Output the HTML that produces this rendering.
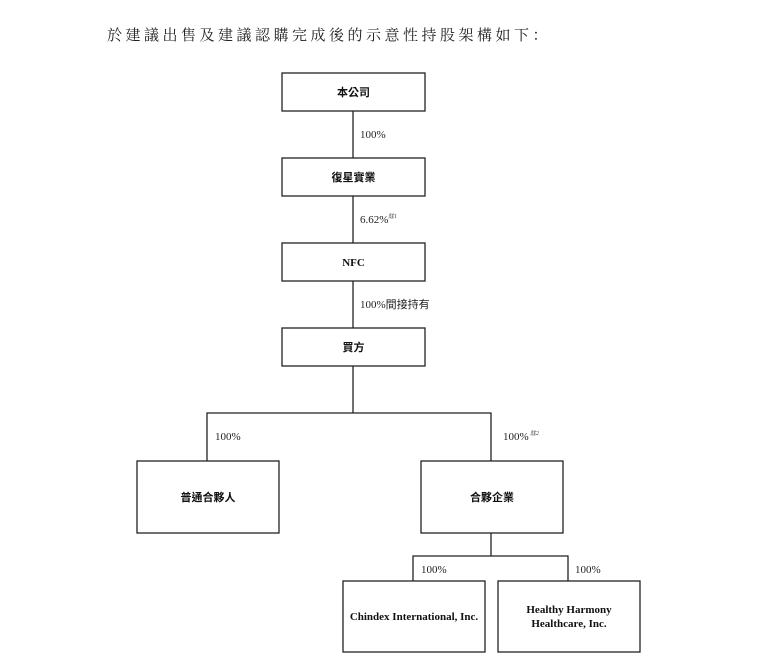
<!DOCTYPE html>
<html><head><meta charset="utf-8"><style>
html,body{margin:0;padding:0;background:#fff;width:772px;height:658px;overflow:hidden}
svg{display:block}
.cj{font-family:"Liberation Sans","Noto Sans CJK TC",sans-serif;font-size:11px;font-weight:bold;fill:#111}
.pc{font-family:"Liberation Serif","Noto Sans CJK TC",serif;font-size:11px;fill:#222}
.en{font-family:"Liberation Serif",serif;font-size:11px;font-weight:bold;fill:#111}
.sup{font-family:"Liberation Serif","Noto Sans CJK TC",serif;font-size:6px;font-style:italic;fill:#444}
.t{font-family:"Liberation Serif","Noto Serif CJK SC","Noto Sans CJK TC",serif;font-size:15px;fill:#222;letter-spacing:3.5px}
</style></head><body>
<svg width="772" height="658" viewBox="0 0 772 658">
<text class="t" x="107" y="40">於建議出售及建議認購完成後的示意性持股架構如下：</text>
<g fill="none" stroke="#222" stroke-width="1.3">
<rect x="282" y="73" width="143" height="38"/>
<rect x="282" y="158" width="143" height="38"/>
<rect x="282" y="243" width="143" height="38"/>
<rect x="282" y="328" width="143" height="38"/>
<line x1="353" y1="111" x2="353" y2="158"/>
<line x1="353" y1="196" x2="353" y2="243"/>
<line x1="353" y1="281" x2="353" y2="328"/>
<line x1="353" y1="366" x2="353" y2="413"/>
<polyline points="207,461 207,413 491,413 491,461"/>
<rect x="137" y="461" width="142" height="72"/>
<rect x="421" y="461" width="142" height="72"/>
<line x1="491" y1="533" x2="491" y2="556"/>
<polyline points="413,581 413,556 568,556 568,581"/>
<rect x="343" y="581" width="142" height="71"/>
<rect x="498" y="581" width="142" height="71"/>
</g>
<text class="cj" x="353.5" y="96" text-anchor="middle">本公司</text>
<text class="cj" x="353.5" y="181" text-anchor="middle">復星實業</text>
<text class="en" x="353.5" y="266" text-anchor="middle">NFC</text>
<text class="cj" x="353.5" y="351" text-anchor="middle">買方</text>
<text class="cj" x="208" y="501" text-anchor="middle">普通合夥人</text>
<text class="cj" x="492" y="501" text-anchor="middle">合夥企業</text>
<text class="en" x="414" y="620" text-anchor="middle">Chindex International, Inc.</text>
<text class="en" x="569" y="613" text-anchor="middle">Healthy Harmony</text>
<text class="en" x="569" y="627" text-anchor="middle">Healthcare, Inc.</text>
<text class="pc" x="360" y="138">100%</text>
<text class="pc" x="360" y="223">6.62%</text><text class="sup" x="388" y="218">註1</text>
<text class="pc" x="360" y="308">100%間接持有</text>
<text class="pc" x="215" y="440">100%</text>
<text class="pc" x="503" y="440">100%</text><text class="sup" x="530" y="435">註2</text>
<text class="pc" x="421" y="573">100%</text>
<text class="pc" x="575" y="573">100%</text>
</svg>
</body></html>
